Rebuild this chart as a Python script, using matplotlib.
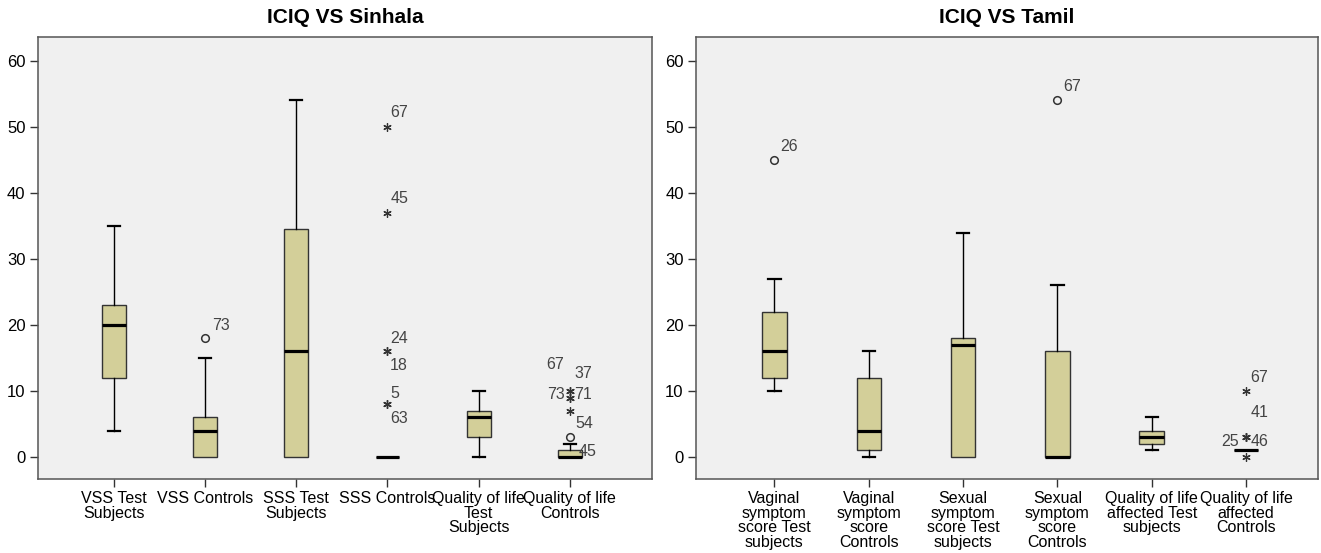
import matplotlib
matplotlib.use('Agg')
import matplotlib.pyplot as plt

plt.rcParams['font.family'] = ['Liberation Sans', 'DejaVu Sans']

# ---- ICIQ VS Sinhala ----
sin_labels = ['VSS Test\nSubjects', 'VSS Controls', 'SSS Test\nSubjects', 'SSS Controls',
              'Quality of life\nTest\nSubjects', 'Quality of life\nControls']
sin_whislo = [4, 0, 0, 0, 0, 0]
sin_q1 = [12, 0, 0, 0, 3, 0]
sin_med = [20, 4, 16, 0, 6, 0]
sin_q3 = [23, 6, 34.5, 0, 7, 1]
sin_whishi = [35, 15, 54, 0, 10, 2]
# outliers: category index, value, case number, extreme (star) or not (circle)
sin_out_cat = [1, 3, 3, 3, 3, 3, 3, 5, 5, 5, 5, 5, 5]
sin_out_val = [18, 50, 37, 16, 16, 8, 8, 10, 10, 9, 9, 7, 3]
sin_out_id = ['73', '67', '45', '24', '18', '5', '63', '67', '37', '73', '71', '54', '45']
sin_out_ext = [False, True, True, True, True, True, True, True, True, True, True, True, False]

# ---- ICIQ VS Tamil ----
tam_labels = ['Vaginal\nsymptom\nscore Test\nsubjects', 'Vaginal\nsymptom\nscore\nControls',
              'Sexual\nsymptom\nscore Test\nsubjects', 'Sexual\nsymptom\nscore\nControls',
              'Quality of life\naffected Test\nsubjects', 'Quality of life\naffected\nControls']
tam_whislo = [10, 0, 0, 0, 1, 1]
tam_q1 = [12, 1, 0, 0, 2, 1]
tam_med = [16, 4, 17, 0, 3, 1]
tam_q3 = [22, 12, 18, 16, 4, 1]
tam_whishi = [27, 16, 34, 26, 6, 1]
tam_out_cat = [0, 3, 5, 5, 5, 5, 5]
tam_out_val = [45, 54, 10, 3, 3, 3, 0]
tam_out_id = ['26', '67', '67', '41', '46', '25', '']
tam_out_ext = [False, False, True, True, True, True, True]

# label placement (offset points, alignment) - layout only
sin_lab_pos = [(5, 9, 'left'), (2, 10, 'left'), (2, 10, 'left'), (2, 9, 'left'), (2, -10, 'left'),
               (2, 8, 'left'), (2, -10, 'left'), (-4, 19, 'right'), (3, 13, 'left'),
               (-4, 2, 'right'), (3, 2, 'left'), (4, -9, 'left'), (6, -10, 'left')]
tam_lab_pos = [(4, 10, 'left'), (4, 10, 'left'), (3, 10, 'left'), (3, 18, 'left'),
               (3, -3, 'left'), (-5, -3, 'right'), (0, 0, 'left')]

BOX = '#D3CF99'
BG = '#F0F0F0'

fig = plt.figure(figsize=(13.21, 5.53), dpi=100)
ax1 = fig.add_axes([0.0288, 0.134, 0.4648, 0.799])
ax2 = fig.add_axes([0.527, 0.134, 0.4705, 0.799])


def draw(ax, title, labels, lo, q1, med, q3, hi, ocat, oval, oid, oext, lpos, xlim):
    stats = []
    for i in range(len(labels)):
        stats.append(dict(whislo=lo[i], q1=q1[i], med=med[i], q3=q3[i], whishi=hi[i], fliers=[]))
    bp = ax.bxp(stats, positions=range(len(labels)), widths=0.26, capwidths=0.13,
                patch_artist=True, showfliers=False,
                boxprops=dict(facecolor=BOX, edgecolor='#333333', linewidth=1.0),
                medianprops=dict(color='black', linewidth=2.3),
                whiskerprops=dict(color='black', linewidth=1.0),
                capprops=dict(color='black', linewidth=1.6))
    # hide caps of zero-length whiskers (SPSS draws none there)
    for i in range(len(labels)):
        if lo[i] == q1[i]:
            bp['caps'][2 * i].set_visible(False)
        if hi[i] == q3[i]:
            bp['caps'][2 * i + 1].set_visible(False)
    for c, v, t, e, (dx, dy, ha) in zip(ocat, oval, oid, oext, lpos):
        if e:
            ax.plot(c, v, marker=(6, 2, 0), markersize=6, color='#333333', mew=0.9, ls='none')
        else:
            ax.plot(c, v, marker='o', markersize=5.5, mfc='none', mec='#333333', mew=1.1, ls='none')
        if t:
            ax.annotate(t, (c, v), xytext=(dx, dy), textcoords='offset points',
                        ha=ha, va='center', fontsize=11.5, color='#444444')
    ax.set_facecolor(BG)
    ax.set_xlim(*xlim)
    ax.set_ylim(-3.3, 63.6)
    ax.set_yticks(range(0, 61, 10))
    ax.set_xticks(range(len(labels)))
    ax.set_xticklabels(labels, fontsize=11.5, linespacing=0.95)
    ax.tick_params(axis='both', direction='out', length=6, width=1, color='#333333', labelsize=12, pad=3)
    ax.tick_params(axis='x', labelsize=11.5)
    for s in ax.spines.values():
        s.set_color('#555555')
        s.set_linewidth(1.1)
    ax.set_title(title, fontsize=15, fontweight='bold', pad=10)


draw(ax1, 'ICIQ VS Sinhala', sin_labels, sin_whislo, sin_q1, sin_med, sin_q3, sin_whishi,
     sin_out_cat, sin_out_val, sin_out_id, sin_out_ext, sin_lab_pos, (-0.83, 5.9))
draw(ax2, 'ICIQ VS Tamil', tam_labels, tam_whislo, tam_q1, tam_med, tam_q3, tam_whishi,
     tam_out_cat, tam_out_val, tam_out_id, tam_out_ext, tam_lab_pos, (-0.83, 5.76))

fig.savefig('out.png', dpi=100)
